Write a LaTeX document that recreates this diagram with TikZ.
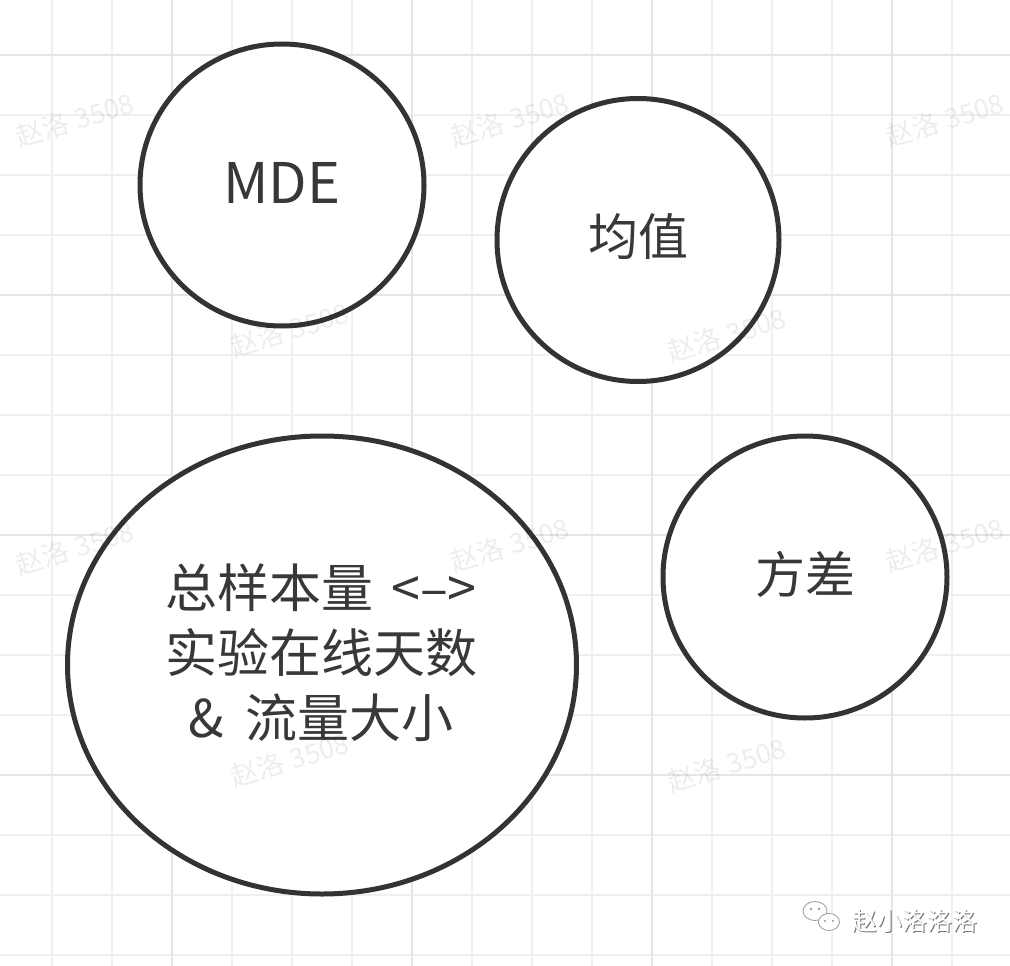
\documentclass[tikz,border=0pt]{standalone}
\usepackage{fontspec}
\setmainfont{Noto Sans CJK SC}
\usetikzlibrary{shapes.geometric}
\begin{document}
\begin{tikzpicture}[x=1pt,y=-1pt,
  minorgrid/.style={draw=black!6,line width=2pt},
  majorgrid/.style={draw=black!10,line width=2.2pt},
  bubble/.style={draw=black!80,line width=5pt,fill=white,inner sep=0pt},
  label/.style={font=\fontsize{50}{65}\selectfont,text=black!78,align=center},
  wmark/.style={font=\fontsize{27}{30}\selectfont,text=black,opacity=0.07,rotate=17}]
\useasboundingbox[fill=white] (0,0) rectangle (1010,966);
% grid
\foreach \k in {0,...,15}{
  \pgfmathsetmacro{\gx}{52+60*\k}
  \pgfmathsetmacro{\gy}{55+60*\k}
  \draw[minorgrid] (\gx,0) -- (\gx,966);
  \draw[minorgrid] (0,\gy) -- (1010,\gy);
}
\foreach \gx in {172,412,652,892}{\draw[majorgrid] (\gx,0) -- (\gx,966);}
\foreach \gy in {55,295,535,775}{\draw[majorgrid] (0,\gy) -- (1010,\gy);}
% circles
\node[bubble,ellipse,minimum width=284pt,minimum height=282pt] (mde) at (282,185) {};
\node[bubble,ellipse,minimum width=282pt,minimum height=283pt] (mean) at (638,240) {};
\node[bubble,ellipse,minimum width=509pt,minimum height=458pt] (size) at (322,665) {};
\node[bubble,ellipse,minimum width=284pt,minimum height=282pt] (var) at (805,577) {};
\node[label,font=\fontsize{56}{65}\selectfont] (mdet) at ([yshift=2]mde.center) {MDE};
\node[label] (meant) at ([yshift=3]mean.center) {均值};
\node[label] (vart) at ([yshift=3]var.center) {方差};
\node[label,font=\fontsize{52}{65}\selectfont] (sizet) at ([xshift=-1,yshift=12]size.center) {总样本量\hspace{18pt}<–>\\实验在线天数\\\&\hspace{22pt}流量大小};
% watermarks
\foreach \wx/\wy [count=\i] in {75/120,510/120,945/120,290/330,727/335,75/548,510/545,945/545,290/760,727/765}{
  \node[wmark] (wm\i) at (\wx,\wy) {赵洛\hspace{8pt}3508};
}
% logo
\begin{scope}[draw=black!40,line width=0.8pt]
  \draw[fill=white] (815,911) ellipse (12 and 9.5);
  \draw[fill=white] (829,922) ellipse (10.5 and 8.5);
  \fill[black!40] (811,909) circle (1.3) (819,909) circle (1.3) (825,921) circle (1.2) (833,921) circle (1.2);
\end{scope}
\node[font=\fontsize{25}{28}\selectfont,text=black!55] (logoshadow) at (915.8,921.8) {赵小洛洛洛};
\node[font=\fontsize{25}{28}\selectfont,text=white] (logo) at (915,921) {赵小洛洛洛};
\end{tikzpicture}
\end{document}
